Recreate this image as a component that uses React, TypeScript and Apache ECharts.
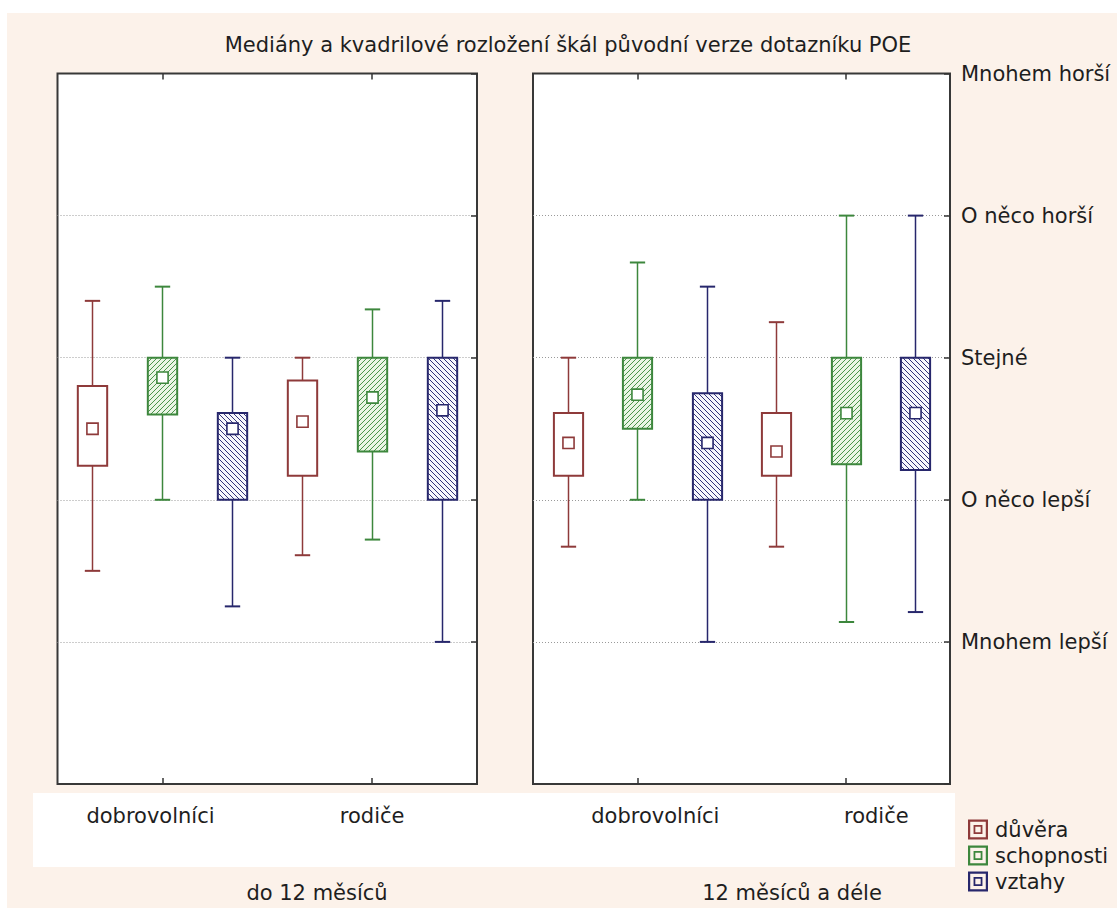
import React, { useEffect, useRef } from "react";
import * as echarts from "echarts";

// ---- data ----
const categories = ["dobrovolníci", "rodiče"];
const groupNames = ["do 12 měsíců", "12 měsíců a déle"];
const measureNames = ["důvěra", "schopnosti", "vztahy"];
const yTickLabels = ["Mnohem lepší", "O něco lepší", "Stejné", "O něco horší", "Mnohem horší"];
const yTickValues = [1, 2, 3, 4, 5];

// each box: [min, q1, median, q3, max] for dobrovolníci, rodiče
const duveraLeft = [
  [1.5, 2.24, 2.5, 2.8, 3.4],
  [1.61, 2.17, 2.55, 2.84, 3.0],
];
const schopnostiLeft = [
  [2.0, 2.6, 2.86, 3.0, 3.5],
  [1.72, 2.34, 2.72, 3.0, 3.34],
];
const vztahyLeft = [
  [1.25, 2.0, 2.5, 2.61, 3.0],
  [1.0, 2.0, 2.63, 3.0, 3.4],
];
const duveraRight = [
  [1.67, 2.17, 2.4, 2.61, 3.0],
  [1.67, 2.17, 2.34, 2.61, 3.25],
];
const schopnostiRight = [
  [2.0, 2.5, 2.74, 3.0, 3.67],
  [1.14, 2.25, 2.61, 3.0, 4.0],
];
const vztahyRight = [
  [1.0, 2.0, 2.4, 2.75, 3.5],
  [1.21, 2.21, 2.61, 3.0, 4.0],
];

const panels = [
  [duveraLeft, schopnostiLeft, vztahyLeft],
  [duveraRight, schopnostiRight, vztahyRight],
];

// ---- styles / layout ----
const FONT = "DejaVu Sans";
const FS = 21;
const TEXT = "#1e1e1e";
const measureStyles = [
  { stroke: "#8e3a3a", fill: "#ffffff", hatch: null as null | string, dir: 0, step: 0 },
  { stroke: "#3d873d", fill: "#eaf5e5", hatch: "#4a944a", dir: 1, step: 5 },
  { stroke: "#27276c", fill: "#f7f7fc", hatch: "#33337a", dir: -1, step: 5 },
];
const gridBoxes = [
  { left: 57.5, top: 73.5, width: 419.5, height: 710.5 },
  { left: 533, top: 73.5, width: 417, height: 710.5 },
];
const catLabelPos = [
  [1.33, 4.5],
  [1.76, 4.94],
];
const catTickPos = [1.5, 4.5];
const groupLabelX = [317, 792];

function hatchLines(x0: number, y0: number, x1: number, y1: number, dir: number, step: number, color: string) {
  const out: any[] = [];
  if (dir === 1) {
    const cStart = Math.ceil((x0 + y0) / step) * step;
    for (let c = cStart; c <= x1 + y1; c += step) {
      const xa = Math.max(x0, c - y1);
      const xb = Math.min(x1, c - y0);
      if (xb - xa < 0.5) continue;
      out.push({
        type: "line",
        shape: { x1: xa, y1: c - xa, x2: xb, y2: c - xb },
        style: { stroke: color, lineWidth: 1 },
        silent: true,
      });
    }
  } else {
    const cStart = Math.ceil((x0 - y1) / step) * step;
    for (let c = cStart; c <= x1 - y0; c += step) {
      const xa = Math.max(x0, c + y0);
      const xb = Math.min(x1, c + y1);
      if (xb - xa < 0.5) continue;
      out.push({
        type: "line",
        shape: { x1: xa, y1: xa - c, x2: xb, y2: xb - c },
        style: { stroke: color, lineWidth: 1 },
        silent: true,
      });
    }
  }
  return out;
}

function makeRenderItem(mIdx: number) {
  const st = measureStyles[mIdx];
  return (params: any, api: any) => {
    const x = api.value(0);
    const lo = api.coord([x, api.value(1)]);
    const q1 = api.coord([x, api.value(2)]);
    const md = api.coord([x, api.value(3)]);
    const q3 = api.coord([x, api.value(4)]);
    const hi = api.coord([x, api.value(5)]);
    const unit = api.size([1, 0])[0];
    const bw = unit * 0.42;
    const cw = unit * 0.22;
    const mw = unit * 0.16;
    const cx = Math.round(lo[0]) + 0.5;
    const bx0 = cx - bw / 2;
    const bx1 = cx + bw / 2;
    const by0 = q3[1];
    const by1 = q1[1];
    const children: any[] = [
      { type: "line", shape: { x1: cx, y1: hi[1], x2: cx, y2: by0 }, style: { stroke: st.stroke, lineWidth: 1.5 } },
      { type: "line", shape: { x1: cx, y1: by1, x2: cx, y2: lo[1] }, style: { stroke: st.stroke, lineWidth: 1.5 } },
      { type: "line", shape: { x1: cx - cw / 2, y1: hi[1], x2: cx + cw / 2, y2: hi[1] }, style: { stroke: st.stroke, lineWidth: 2 } },
      { type: "line", shape: { x1: cx - cw / 2, y1: lo[1], x2: cx + cw / 2, y2: lo[1] }, style: { stroke: st.stroke, lineWidth: 2 } },
      { type: "rect", shape: { x: bx0, y: by0, width: bw, height: by1 - by0 }, style: { fill: st.fill, stroke: "none" } },
    ];
    if (st.hatch) {
      children.push(...hatchLines(bx0, by0, bx1, by1, st.dir, st.step, st.hatch));
    }
    children.push(
      { type: "rect", shape: { x: bx0, y: by0, width: bw, height: by1 - by0 }, style: { fill: "none", stroke: st.stroke, lineWidth: 2 } },
      { type: "rect", shape: { x: cx - mw / 2, y: md[1] - mw / 2, width: mw, height: mw }, style: { fill: "#ffffff", stroke: st.stroke, lineWidth: 1.6 } }
    );
    return { type: "group", children };
  };
}

function buildOption() {
  const series: any[] = [];
  panels.forEach((panel, p) => {
    panel.forEach((boxes, m) => {
      series.push({
        type: "custom",
        name: measureNames[m],
        xAxisIndex: p,
        yAxisIndex: p,
        itemStyle: { color: measureStyles[m].stroke },
        renderItem: makeRenderItem(m),
        encode: { x: 0, y: [1, 2, 3, 4, 5] },
        data: boxes.map((b, c) => [c * measureNames.length + m + 0.5, ...b]),
        clip: false,
      });
    });
  });

  const legendIcon = "path://M0,0H18V18H0Z M2,2V16H16V2Z M5,5H13V13H5Z M6.6,6.6V11.4H11.4V6.6Z";

  const bottomAxes = [0, 1].map((p) => ({
    type: "value",
    gridIndex: p,
    position: "bottom",
    min: 0,
    max: 6,
    axisLine: { show: false, onZero: false },
    splitLine: { show: false },
    axisTick: {
      show: true,
      inside: true,
      length: 6,
      customValues: catTickPos,
      lineStyle: { color: "#333", width: 1.5 },
    },
    axisLabel: {
      show: true,
      customValues: catLabelPos[p],
      margin: 21,
      fontFamily: FONT,
      fontSize: FS,
      color: TEXT,
      formatter: (v: number) => {
        const i = catLabelPos[p].findIndex((q) => Math.abs(q - v) < 1e-6);
        return i >= 0 ? categories[i] : "";
      },
    },
  }));
  const topAxes = [0, 1].map((p) => ({
    type: "value",
    gridIndex: p,
    position: "top",
    min: 0,
    max: 6,
    axisLine: { show: false, onZero: false },
    splitLine: { show: false },
    axisTick: {
      show: true,
      inside: true,
      length: 6,
      customValues: catTickPos,
      lineStyle: { color: "#333", width: 1.5 },
    },
    axisLabel: { show: false },
  }));

  const yAxes = [0, 1].map((p) => ({
    type: "value",
    gridIndex: p,
    position: "right",
    min: 0,
    max: 5,
    interval: 1,
    axisLine: { show: false, onZero: false },
    axisTick: {
      show: true,
      inside: true,
      length: 6,
      lineStyle: { color: "#333", width: 1.5 },
    },
    splitLine: {
      show: true,
      showMinLine: false,
      showMaxLine: false,
      lineStyle: { color: "#9a9a9a", width: 1, type: [1, 2] },
    },
    axisLabel: {
      show: p === 1,
      margin: 11,
      align: "left",
      fontFamily: FONT,
      fontSize: FS,
      color: TEXT,
      formatter: (v: number) => {
        const i = yTickValues.indexOf(Math.round(v));
        return i >= 0 ? yTickLabels[i] : "";
      },
    },
  }));

  return {
    animation: false,
    backgroundColor: "#fcf2ea",
    textStyle: { fontFamily: FONT },
    grid: gridBoxes.map((g) => ({
      ...g,
      show: true,
      backgroundColor: "#ffffff",
      borderColor: "#383838",
      borderWidth: 2,
      containLabel: false,
    })),
    xAxis: [...bottomAxes, ...topAxes],
    yAxis: yAxes,
    legend: {
      orient: "vertical",
      left: 968,
      top: 819,
      itemWidth: 20,
      itemHeight: 20,
      itemGap: 5,
      padding: 0,
      icon: legendIcon,
      textStyle: { fontFamily: FONT, fontSize: FS, color: TEXT, lineHeight: 20, padding: [0, 0, 0, 2] },
      data: measureNames.map((n, m) => ({ name: n, itemStyle: { color: measureStyles[m].stroke, borderWidth: 0 } })),
      selectedMode: false,
    },
    graphic: [
      { type: "rect", shape: { x: 0, y: 0, width: 1117, height: 13 }, style: { fill: "#ffffff" }, silent: true },
      { type: "rect", shape: { x: 0, y: 0, width: 7, height: 908 }, style: { fill: "#ffffff" }, silent: true },
      { type: "rect", shape: { x: 33, y: 793, width: 922, height: 74 }, style: { fill: "#ffffff" }, silent: true },
      {
        type: "text",
        x: 568,
        y: 45,
        style: {
          text: "Mediány a kvadrilové rozložení škál původní verze dotazníku POE",
          fontFamily: FONT,
          fontSize: FS,
          fill: TEXT,
          align: "center",
          verticalAlign: "middle",
        },
      },
      ...groupNames.map((g, i) => ({
        type: "text",
        x: groupLabelX[i],
        y: 893,
        style: { text: g, fontFamily: FONT, fontSize: FS, fill: TEXT, align: "center", verticalAlign: "middle" },
      })),
    ],
    series,
  };
}

export default function App() {
  const ref = useRef<HTMLDivElement>(null);
  useEffect(() => {
    document.body.style.margin = "0";
    if (!ref.current) return;
    const chart = echarts.init(ref.current, null, { renderer: "svg" });
    chart.setOption(buildOption() as any);
    return () => chart.dispose();
  }, []);
  return <div ref={ref} style={{ width: 1117, height: 908 }} />;
}
